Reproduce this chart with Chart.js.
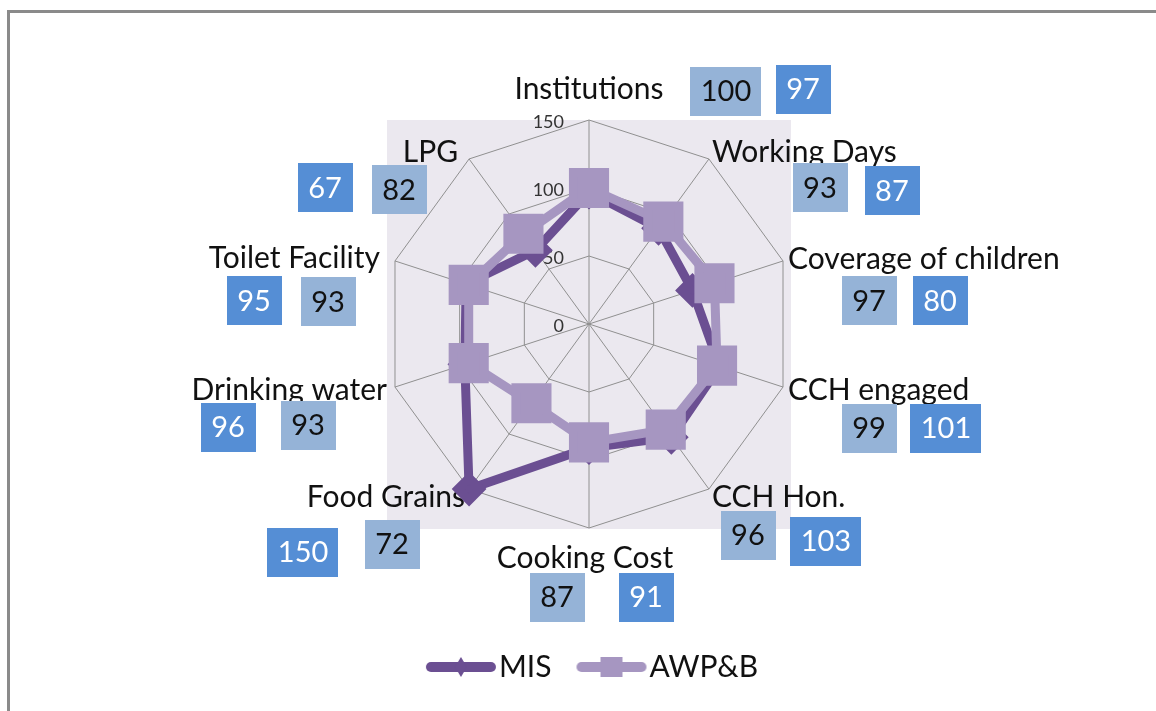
<!DOCTYPE html>
<html>
<head>
<meta charset="utf-8">
<title>MIS vs AWP&amp;B</title>
<script src="https://cdn.jsdelivr.net/npm/chart.js@4"></script>
<style>
  html, body { margin: 0; padding: 0; background: #fff; }
  #wrap { position: relative; width: 1156px; height: 711px; overflow: hidden; }
  #frame { position: absolute; left: 7px; top: 10px; right: -5px; bottom: -5px;
           border-top: 3px solid #8a8a8a; border-left: 3px solid #8a8a8a; }
  canvas { position: absolute; left: 0; top: 0; }
</style>
</head>
<body>
<div id="wrap">
  <div id="frame"></div>
  <canvas id="radarChart" width="1156" height="711"></canvas>
</div>
<script>
const categories = ['Institutions', 'Working Days', 'Coverage of children', 'CCH engaged', 'CCH Hon.',
  'Cooking Cost', 'Food Grains', 'Drinking water', 'Toilet Facility', 'LPG'];
const misValues = [97, 87, 80, 101, 103, 91, 150, 96, 95, 67];
const awpValues = [100, 93, 97, 99, 96, 87, 72, 93, 93, 82];
const tickValues = [0, 50, 100, 150];

const MIS_COLOR = '#6b4f92';
const AWP_COLOR = '#a696c1';
const DARK_BOX = '#558ed5';
const LIGHT_BOX = '#95b3d7';
const FONT = 'Lato';

// where the Excel labels were dragged to, relative to each outer vertex
const categorySpots = [[0, -31, 'center'], [3, -7, 'left'], [5, -2, 'left'], [5, 3, 'left'], [3, 8, 'left'],
  [-4, 30, 'center'], [-4, 8, 'right'], [-8, 3, 'right'], [-15, -3, 'right'], [-11, -7, 'right']];
const misBoxSpots = [[214, -31], [183, 32], [157, 40], [163, 41], [117, 52], [57, 69], [-166, 63], [-167, 40], [-141, 40], [-144, 29]];
const awpBoxSpots = [[137, -29], [111, 29], [86, 40], [86, 41], [39, 46], [-32, 69], [-77, 55], [-87, 38], [-67, 41], [-70, 31]];

// legend icon: thick line with the series marker in the middle
// (drawn off-centre so the text sits right after the line, like Excel)
function legendIcon(color, marker) {
  const c = document.createElement('canvas');
  c.width = 90;
  c.height = 24;
  const g = c.getContext('2d');
  g.strokeStyle = color;
  g.fillStyle = color;
  g.lineWidth = 10;
  g.lineCap = 'round';
  g.beginPath();
  g.moveTo(24, 12);
  g.lineTo(84, 12);
  g.stroke();
  g.beginPath();
  if (marker === 'diamond') {
    g.moveTo(54, 2);
    g.lineTo(60, 12);
    g.lineTo(54, 22);
    g.lineTo(48, 12);
  } else {
    g.rect(43, 2, 22, 20);
  }
  g.closePath();
  g.fill();
  return c;
}

const plotBackground = {
  id: 'plotBackground',
  beforeDraw(chart) {
    const r = chart.scales.r;
    const ctx = chart.ctx;
    ctx.save();
    ctx.fillStyle = '#ebe8ef';
    ctx.fillRect(r.xCenter - r.drawingArea + 2, r.yCenter - r.drawingArea, 2 * r.drawingArea - 4, 2 * r.drawingArea + 1);
    ctx.restore();
  }
};

const axisText = {
  id: 'axisText',
  beforeDatasetsDraw(chart) {
    const r = chart.scales.r;
    const ctx = chart.ctx;
    ctx.save();
    // tick labels, left of the vertical axis
    ctx.font = '18px ' + FONT;
    ctx.fillStyle = '#333';
    ctx.textAlign = 'right';
    ctx.textBaseline = 'middle';
    tickValues.forEach(v => {
      ctx.fillText(String(v), r.xCenter - 25, r.yCenter - r.getDistanceFromCenterForValue(v) + 2);
    });
    // category labels
    ctx.font = '30px ' + FONT;
    ctx.fillStyle = '#111';
    categories.forEach((label, i) => {
      const p = r.getPointPosition(i, r.drawingArea);
      const s = categorySpots[i];
      ctx.textAlign = s[2];
      ctx.fillText(label, p.x + s[0], p.y + s[1]);
    });
    ctx.restore();
  }
};

const valueBoxes = {
  id: 'valueBoxes',
  afterDatasetsDraw(chart) {
    const r = chart.scales.r;
    const ctx = chart.ctx;
    const sets = [
      { values: misValues, spots: misBoxSpots, fill: DARK_BOX, text: '#ffffff' },
      { values: awpValues, spots: awpBoxSpots, fill: LIGHT_BOX, text: '#111111' }
    ];
    ctx.save();
    ctx.font = '29px ' + FONT;
    ctx.textAlign = 'center';
    ctx.textBaseline = 'middle';
    sets.forEach(set => {
      set.values.forEach((v, i) => {
        const p = r.getPointPosition(i, r.drawingArea);
        const cx = p.x + set.spots[i][0];
        const cy = p.y + set.spots[i][1];
        const label = String(v);
        const w = ctx.measureText(label).width + 21;
        const h = 49;
        ctx.fillStyle = set.fill;
        ctx.fillRect(Math.round(cx - w / 2), Math.round(cy - h / 2), Math.round(w), h);
        ctx.fillStyle = set.text;
        ctx.fillText(label, cx, cy + 1);
      });
    });
    ctx.restore();
  }
};

const ctx = document.getElementById('radarChart').getContext('2d');

const radarChart = new Chart(ctx, {
  type: 'radar',
  data: {
    labels: categories,
    datasets: [
      {
        label: 'MIS',
        data: misValues,
        borderColor: MIS_COLOR,
        backgroundColor: MIS_COLOR,
        borderWidth: 9,
        fill: false,
        tension: 0,
        pointStyle: 'rectRot',
        pointRadius: 11,
        pointBackgroundColor: MIS_COLOR,
        pointBorderColor: MIS_COLOR,
        order: 1
      },
      {
        label: 'AWP&B',
        data: awpValues,
        borderColor: AWP_COLOR,
        backgroundColor: AWP_COLOR,
        borderWidth: 9,
        fill: false,
        tension: 0,
        pointStyle: 'rect',
        pointRadius: 22,
        pointBackgroundColor: AWP_COLOR,
        pointBorderColor: AWP_COLOR,
        order: 0
      }
    ]
  },
  options: {
    responsive: false,
    animation: false,
    layout: {
      padding: { top: 120, left: 150, right: 128, bottom: 19 }
    },
    scales: {
      r: {
        min: 0,
        max: 150,
        ticks: { display: false, stepSize: 50 },
        grid: { color: '#909090', lineWidth: 1 },
        angleLines: { color: '#909090', lineWidth: 1 },
        pointLabels: { display: false }
      }
    },
    plugins: {
      tooltip: { enabled: false },
      legend: {
        position: 'bottom',
        title: { display: true, text: '', font: { size: 10 }, padding: { top: 93, bottom: 0 } },
        labels: {
          usePointStyle: true,
          pointStyleWidth: 64,
          boxHeight: 20,
          padding: 19,
          color: '#111',
          font: { family: FONT, size: 30 },
          sort: (a, b) => a.datasetIndex - b.datasetIndex,
          generateLabels: function (chart) {
            const items = Chart.defaults.plugins.legend.labels.generateLabels(chart);
            items.forEach(item => {
              const ds = chart.data.datasets[item.datasetIndex];
              item.pointStyle = legendIcon(ds.borderColor, ds.pointStyle === 'rectRot' ? 'diamond' : 'square');
            });
            return items;
          }
        }
      }
    }
  },
  plugins: [plotBackground, axisText, valueBoxes]
});
</script>
</body>
</html>
